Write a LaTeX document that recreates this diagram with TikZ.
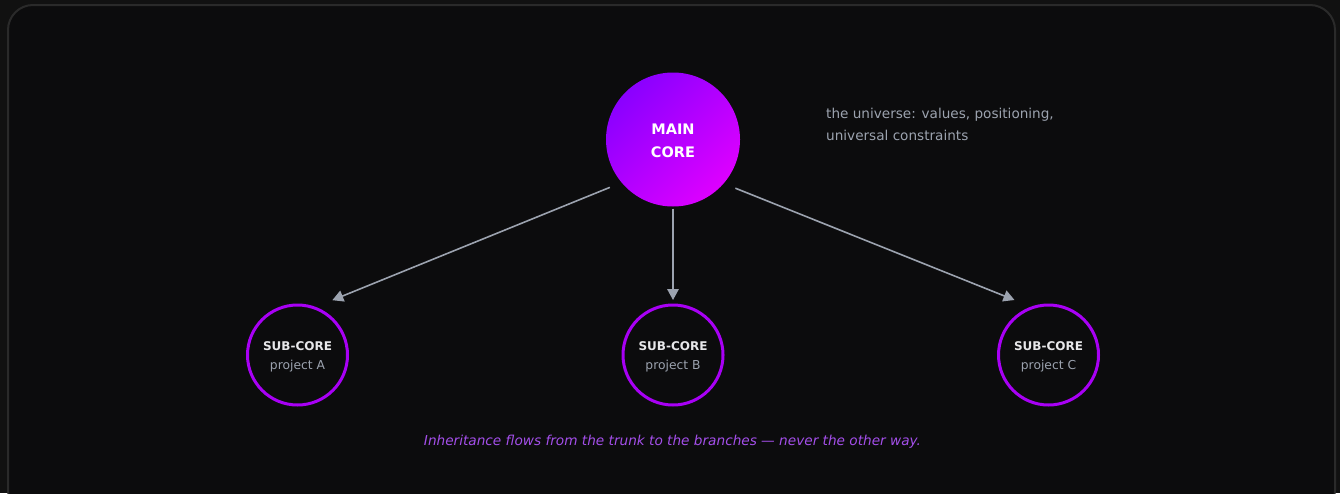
\documentclass[tikz,border=0pt]{standalone}
\usepackage{fontspec}
\setmainfont{DejaVu Sans}
\usetikzlibrary{arrows.meta}
\definecolor{bgout}{HTML}{111111}
\definecolor{bgin}{HTML}{0C0C0D}
\definecolor{frame}{HTML}{2A2A2A}
\definecolor{coreA}{HTML}{8A00FF}
\definecolor{coreB}{HTML}{DD00FF}
\definecolor{subring}{HTML}{A800F5}
\definecolor{subtitle}{HTML}{E8E8EA}
\definecolor{softgray}{HTML}{9CA3AF}
\definecolor{captionpurple}{HTML}{A44FEA}
\tikzset{
  maincore/.style={circle, minimum size=134pt, inner sep=0pt, outer sep=0pt,
    top color=coreA, bottom color=coreB, shading angle=45, draw=none,
    align=center, text=white, font=\fontsize{14.5}{23}\selectfont\bfseries},
  subcore/.style={circle, minimum size=100pt, inner sep=0pt, outer sep=0pt,
    draw=subring, line width=3pt, fill=bgin, align=center,
    font=\fontsize{12.3}{19}\selectfont},
  inherit/.style={draw=softgray, line width=1.6pt,
    -{Triangle[length=11pt,width=11.5pt]}},
  note/.style={anchor=base west, inner sep=0pt, text=softgray,
    font=\fontsize{13.6}{22}\selectfont}
}
\newcommand{\subtext}[1]{\rule{0pt}{13pt}\textcolor{subtitle}{\bfseries\fontsize{12}{19}\selectfont SUB-CORE}\\\textcolor{softgray}{#1}}
\begin{document}
\begin{tikzpicture}[x=1pt,y=-1pt]
\useasboundingbox (0,0) rectangle (1340,493);
\fill[bgout] (0,0) rectangle (1340,493);
\begin{scope}
  \clip (0,0) rectangle (1340,493);
  \draw[line width=2pt, draw=frame, fill=bgin, rounded corners=25pt] (8,5) rectangle (1335,515);
\end{scope}

\node[maincore] (main) at (673,139.5) {\rule{0pt}{12.5pt}MAIN\\CORE};

\node[subcore] (subA) at (297.5,355) {\subtext{project A}};
\node[subcore] (subB) at (673,355) {\subtext{project B}};
\node[subcore] (subC) at (1048.5,355) {\subtext{project C}};

\draw[inherit, shorten <=12.75pt, shorten >=20pt] (main.220.2) -- (subA.71.5);
\draw[inherit, shorten <=2pt, shorten >=5pt] (main.270) -- (subB.90);
\draw[inherit, shorten <=12.75pt, shorten >=20pt] (main.319.8) -- (subC.108.5);

\node[note] (ann1) at (826,118) {the universe: values, positioning,};
\node[note] (ann2) at (826,140.5) {universal constraints};

\node[text=captionpurple, font=\fontsize{13.65}{17}\selectfont\itshape, inner sep=0pt] (caption) at (672.5,441.5) {Inheritance flows from the trunk to the branches — never the other way.};
\end{tikzpicture}
\end{document}
